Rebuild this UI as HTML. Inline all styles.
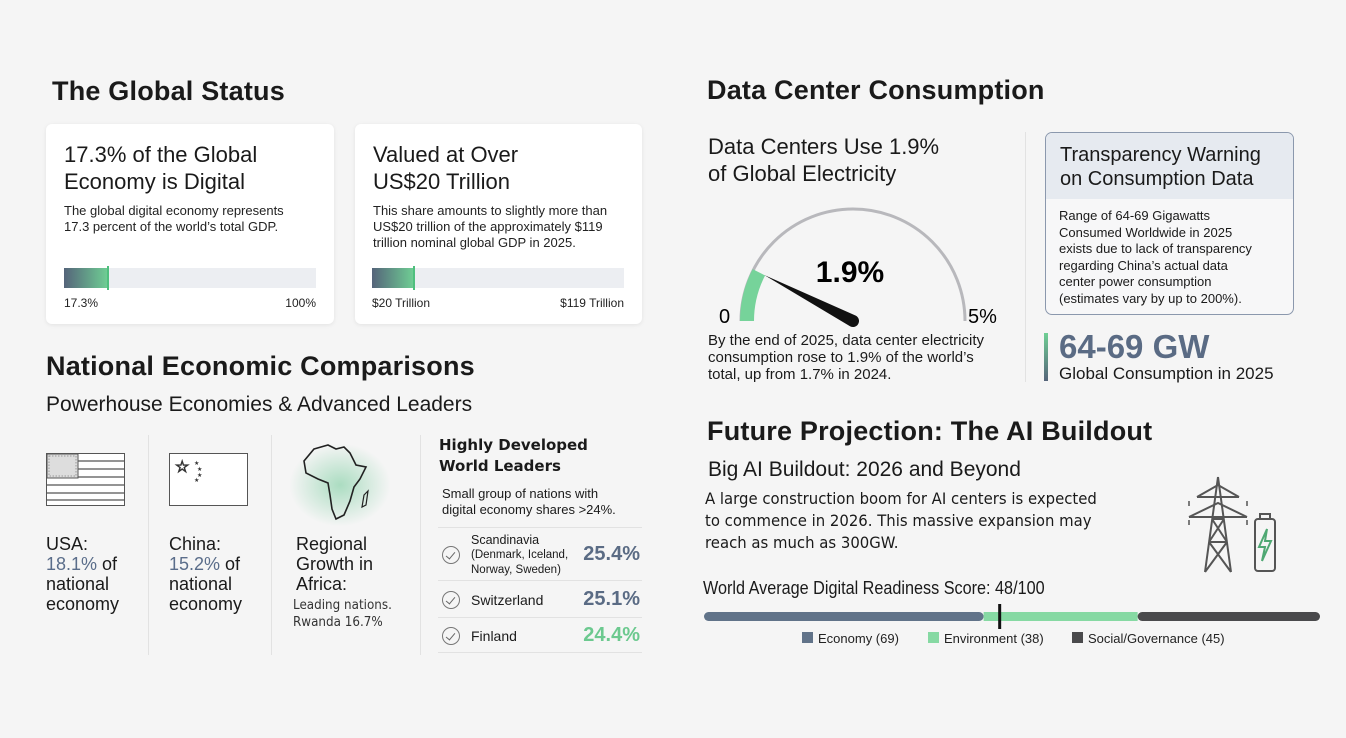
<!DOCTYPE html>
<html><head><meta charset="utf-8">
<style>
*{margin:0;padding:0;box-sizing:border-box}
body{width:1346px;height:738px;background:#f5f5f5;font-family:"Liberation Sans",sans-serif;color:#1a1a1a;position:relative;overflow:hidden}
.a{position:absolute;white-space:nowrap}
.h1{font-weight:bold;font-size:27px;letter-spacing:0.2px}
.h2{font-size:21px}
.card{position:absolute;background:#fff;border-radius:6px;box-shadow:0 1px 4px rgba(0,0,0,.08)}
.ct{font-size:22px;line-height:27px;font-weight:500}
.cb{font-size:13px;line-height:16px;color:#222}
.track{position:absolute;height:20px;background:#eceef2}
.fill{position:absolute;left:0;top:0;height:20px;background:linear-gradient(90deg,#55647a,#6fcf94)}
.tick{position:absolute;top:-2px;width:2px;height:24px;background:#4fbf7e}
.sm{font-size:12px;color:#222}
.vs{position:absolute;width:1px;background:#e2e2e2}
.stat{font-size:18px;line-height:20px}
.blue{color:#5a6d8a}
.row{position:absolute;left:438px;width:204px;border-top:1px solid #e2e2e2}
.chk{position:absolute;width:18px;height:18px;border:1.3px solid #777;border-radius:50%}
.chk:after{content:"";position:absolute;left:5px;top:3px;width:4px;height:8px;border-right:1.5px solid #666;border-bottom:1.5px solid #666;transform:rotate(40deg)}
</style></head><body>

<div class="a h1" style="left:52px;top:76px">The Global Status</div>
<div class="a h1" style="left:707px;top:75px">Data Center Consumption</div>

<div class="card" style="left:46px;top:124px;width:288px;height:200px">
 <div class="a ct" style="left:18px;top:17px">17.3% of the Global<br>Economy is Digital</div>
 <div class="a cb" style="left:18px;top:79px">The global digital economy represents<br>17.3 percent of the world’s total GDP.</div>
 <div class="track" id="bar1" style="left:18px;top:144px;width:252px"></div>
 <div class="a sm" style="left:18px;top:172px">17.3%</div>
 <div class="a sm" style="right:18px;top:172px">100%</div>
</div>
<div class="card" style="left:355px;top:124px;width:287px;height:200px">
 <div class="a ct" style="left:18px;top:17px">Valued at Over<br>US$20 Trillion</div>
 <div class="a cb" style="left:18px;top:79px">This share amounts to slightly more than<br>US$20 trillion of the approximately $119<br>trillion nominal global GDP in 2025.</div>
 <div class="track" id="bar2" style="left:17px;top:144px;width:252px"></div>
 <div class="a sm" style="left:17px;top:172px">$20 Trillion</div>
 <div class="a sm" style="right:18px;top:172px">$119 Trillion</div>
</div>

<div class="a h1" style="left:46px;top:351px">National Economic Comparisons</div>
<div class="a h2" style="left:46px;top:393px">Powerhouse Economies &amp; Advanced Leaders</div>

<div class="vs" style="left:148px;top:435px;height:220px"></div>
<div class="vs" style="left:271px;top:435px;height:220px"></div>
<div class="vs" style="left:420px;top:435px;height:220px"></div>

<svg class="a" style="left:46px;top:453px" width="80" height="54">
 <rect x="0.5" y="0.5" width="78" height="52" fill="#fff" stroke="#555"/>
 <g stroke="#555" stroke-width="1.3">
 <line x1="0" y1="8" x2="79" y2="8"/><line x1="0" y1="16" x2="79" y2="16"/><line x1="0" y1="24" x2="79" y2="24"/><line x1="0" y1="32" x2="79" y2="32"/><line x1="0" y1="40" x2="79" y2="40"/><line x1="0" y1="47" x2="79" y2="47"/></g>
 <rect x="1" y="1" width="31" height="24" fill="#ddd" stroke="#555"/>
 <rect x="3" y="3" width="27" height="20" fill="none" stroke="#999" stroke-dasharray="1.5 1.5"/>
</svg>
<div class="a stat" style="left:46px;top:534px">USA:<br><span class="blue">18.1%</span> of<br>national<br>economy</div>

<svg class="a" style="left:169px;top:453px" width="80" height="54">
 <rect x="0.5" y="0.5" width="78" height="52" fill="#fff" stroke="#555"/>
 <text x="6" y="19" font-size="16" fill="none" stroke="#333">☆</text>
 <text x="25" y="12" font-size="6" fill="#333">★</text><text x="28" y="18" font-size="6" fill="#333">★</text><text x="28" y="24" font-size="6" fill="#333">★</text><text x="25" y="29" font-size="6" fill="#333">★</text>
</svg>
<div class="a stat" style="left:169px;top:534px">China:<br><span class="blue">15.2%</span> of<br>national<br>economy</div>

<div class="a" style="left:285px;top:440px;width:110px;height:90px;background:radial-gradient(ellipse at center,rgba(110,200,150,.55),rgba(110,200,150,0) 65%)"></div>
<svg class="a" style="left:300px;top:443px" width="78" height="80">
 <path d="M14 6 L28 2 L36 6 L44 4 L50 10 L56 22 L66 24 L60 36 L54 44 L50 58 L44 72 L36 76 L32 66 L30 52 L28 40 L18 36 L6 30 L4 18 Z" fill="none" stroke="#222" stroke-width="1.6"/>
 <path d="M64 52 L68 48 L66 62 L62 64 Z" fill="none" stroke="#222" stroke-width="1.2"/>
</svg>
<div class="a stat" style="left:296px;top:534px;font-weight:500">Regional<br>Growth in<br>Africa:</div>
<div class="a" style="left:293px;top:597px;font-size:13px;line-height:17px;color:#333;font-family:'DejaVu Sans',sans-serif;transform:scaleX(.92);transform-origin:left">Leading nations.<br>Rwanda 16.7%</div>

<div class="a" style="left:439px;top:435px;font-family:'DejaVu Sans',sans-serif;font-weight:bold;font-size:15px;line-height:21px">Highly Developed<br>World Leaders</div>
<div class="a" style="left:442px;top:486px;font-size:13px;line-height:16px">Small group of nations with<br>digital economy shares &gt;24%.</div>
<div id="leaders"></div>

<div class="a" style="left:708px;top:133px;font-size:22px;line-height:27px;font-weight:500">Data Centers Use 1.9%<br>of Global Electricity</div>
<svg class="a" id="gauge" style="left:700px;top:190px" width="320" height="145"></svg>
<div class="a" style="left:708px;top:332px;font-size:15px;line-height:17px">By the end of 2025, data center electricity<br>consumption rose to 1.9% of the world’s<br>total, up from 1.7% in 2024.</div>

<div class="vs" style="left:1025px;top:132px;height:250px"></div>
<div class="a" style="left:1045px;top:132px;width:249px;height:183px;border:1.5px solid #8b98ad;border-radius:7px;background:#f7f7f8;overflow:hidden">
 <div style="height:66px;background:#e6eaf0;padding:10px 0 0 14px;font-size:20px;line-height:24px;font-weight:500">Transparency Warning<br>on Consumption Data</div>
 <div style="padding:9px 0 0 13px;font-size:13px;line-height:16.5px">Range of 64-69 Gigawatts<br>Consumed Worldwide in 2025<br>exists due to lack of transparency<br>regarding China’s actual data<br>center power consumption<br>(estimates vary by up to 200%).</div>
</div>
<div class="a" style="left:1044px;top:333px;width:4px;height:48px;background:linear-gradient(#6fcf94,#55647a)"></div>
<div class="a" style="left:1059px;top:328px;font-size:33px;font-weight:bold;color:#5a6b84">64-69 GW</div>
<div class="a" style="left:1059px;top:364px;font-size:17px">Global Consumption in 2025</div>

<div class="a h1" style="left:707px;top:416px">Future Projection: The AI Buildout</div>
<div class="a h2" style="left:708px;top:458px">Big AI Buildout: 2026 and Beyond</div>
<div class="a" style="left:705px;top:488px;font-family:'DejaVu Sans',sans-serif;font-size:16px;line-height:22px;transform:scaleX(.93);transform-origin:left">A large construction boom for AI centers is expected<br>to commence in 2026. This massive expansion may<br>reach as much as 300GW.</div>

<svg class="a" style="left:1185px;top:475px" width="105" height="100">
 <g stroke="#555" stroke-width="2" fill="none">
 <path d="M33 2 L20 97 M33 2 L46 97 M24 67 L42 67 M20 97 L42 67 M46 97 L24 67 M27 44 L39 44 M27 44 L42 67 M39 44 L24 67"/>
 <path d="M12 22 L54 22 M4 42 L62 42 M12 22 L33 10 L54 22 M4 42 L33 28 L62 42"/>
 <path d="M4 26v5 M4 45v5 M62 26v5 M62 45v5" stroke-width="1.5"/>
 <rect x="70" y="44" width="20" height="52" rx="3"/><rect x="75" y="39" width="10" height="5"/>
 </g>
 <path d="M82 54 L74 72 L80 72 L77 86 L86 66 L80 66 Z" fill="none" stroke="#4fa873" stroke-width="2"/>
</svg>

<div class="a" style="left:703px;top:578px;font-size:18px;transform:scaleX(.9);transform-origin:left">World Average Digital Readiness Score: 48/100</div>
<svg class="a" id="readiness" style="left:700px;top:600px" width="630" height="60"></svg>

<script>
// ---- data ----
const barValues = [17.3, 20];
const barMax = [100, 119];
const leaderNames = ["Scandinavia", "Switzerland", "Finland"];
const leaderValues = [25.4, 25.1, 24.4];
const gaugeValue = [1.9];
const gaugeMax = [5];
const readinessCats = ["Economy", "Environment", "Social/Governance"];
const readinessVals = [69, 38, 45];
const readinessScore = [48];
const readinessMax = [100];

const NS="http://www.w3.org/2000/svg";
function mk(tag,attrs,parent){const e=document.createElementNS(NS,tag);for(const k in attrs)e.setAttribute(k,attrs[k]);parent.appendChild(e);return e;}

// progress bars
["bar1","bar2"].forEach((id,i)=>{
 const t=document.getElementById(id);const w=252*barValues[i]/barMax[i];
 const f=document.createElement('div');f.className='fill';f.style.width=w+'px';
 
 
 t.appendChild(f);
 const k=document.createElement('div');k.className='tick';k.style.left=(w-1)+'px';
 
 
 t.appendChild(k);
});

// leaders
const L=document.getElementById('leaders');
const rowTops=[527,580,617];const rowH=[53,37,36];
leaderNames.forEach((n,i)=>{
 const r=document.createElement('div');r.className='row';r.style.top=rowTops[i]+'px';r.style.height=rowH[i]+'px';
 
 
 const c=document.createElement('div');c.className='chk';c.style.left='4px';c.style.top=(rowH[i]/2-9)+'px';r.appendChild(c);
 const nm=document.createElement('div');nm.className='a';nm.style.left='33px';
 if(i===0){nm.style.top='5px';nm.style.fontSize='12.5px';nm.style.lineHeight='14px';nm.innerHTML=n+'<br><span style="font-size:11.5px">(Denmark, Iceland,<br>Norway, Sweden)</span>';}
 else{nm.style.top=(rowH[i]/2-8)+'px';nm.style.fontSize='14px';nm.textContent=n;}
 r.appendChild(nm);
 const v=document.createElement('div');v.className='a';v.style.right='2px';v.style.top=(rowH[i]/2-12)+'px';v.style.fontSize='20px';v.style.fontWeight='bold';
 v.style.color=i===2?'#6cc98f':'#5a6b84';v.textContent=leaderValues[i].toFixed(1)+'%';
 
 
 r.appendChild(v);L.appendChild(r);
});
const last=document.createElement('div');last.className='row';last.style.top='652px';L.appendChild(last);

// gauge
const g=document.getElementById('gauge');
const cx=153,cy=131,R=112;
function pt(frac,r){const a=Math.PI*(1-frac);return [cx+r*Math.cos(a),cy-r*Math.sin(a)];}
const p0=pt(0,R),p1=pt(1,R);
const track=mk('path',{d:`M${p0[0]} ${p0[1]} A${R} ${R} 0 0 1 ${p1[0]} ${p1[1]}`,fill:'none',stroke:'#b8b8bc','stroke-width':3},g);


const fr=gaugeValue[0]/gaugeMax[0]*0.4;
const rg=R-6;const g0=pt(0,rg),g1=pt(fr,rg);
const gf=mk('path',{d:`M${g0[0]} ${g0[1]} A${rg} ${rg} 0 0 1 ${g1[0]} ${g1[1]}`,fill:'none',stroke:'#76d39a','stroke-width':14},g);


const tip=pt(fr,R-12);const ang=Math.PI*(1-fr);
const nx=-Math.sin(ang)*6,ny=-Math.cos(ang)*6;
const nd=mk('path',{d:`M${tip[0]} ${tip[1]} L${cx+nx} ${cy+ny} A6 6 0 0 0 ${cx-nx} ${cy-ny} Z`,fill:'#111'},g);


const vt=mk('text',{x:150,y:92,'font-size':30,'font-weight':'bold','text-anchor':'middle','font-family':'Liberation Sans'},g);vt.textContent=gaugeValue[0]+'%';


const t0=mk('text',{x:p0[0]-22,y:133,'font-size':20,'font-family':'Liberation Sans'},g);t0.textContent='0';


const t1=mk('text',{x:p1[0]+3,y:133,'font-size':20,'font-family':'Liberation Sans'},g);t1.textContent=gaugeMax[0]+'%';



// readiness stacked bar
const s=document.getElementById('readiness');
const bx=4,bw=616,by=12,bh=9;
const total=readinessVals.reduce((a,b)=>a+b,0);
const cols=['#617389','#86d9a3','#4a4a4c'];
let acc=0;
readinessVals.forEach((v,i)=>{
 const x=bx+acc/total*bw,w=v/total*bw;acc+=v;
 const r=mk('rect',{x:x,y:by,width:w,height:bh,fill:cols[i],rx:(i!==1?4.5:0)},s);
 
 
});
const mx=bx+readinessScore[0]/readinessMax[0]*bw;
const m=mk('rect',{x:mx-1.5,y:4,width:3,height:25,fill:'#111'},s);


const lx=[102,228,372];
readinessCats.forEach((c,i)=>{
 const sq=mk('rect',{x:lx[i],y:32,width:11,height:11,fill:cols[i]},s);
 
 
 const t=mk('text',{x:lx[i]+16,y:43,'font-size':13,fill:'#222','font-family':'Liberation Sans'},s);
 t.textContent=c+' ('+readinessVals[i]+')';
 
 
});
</script>
</body></html>
